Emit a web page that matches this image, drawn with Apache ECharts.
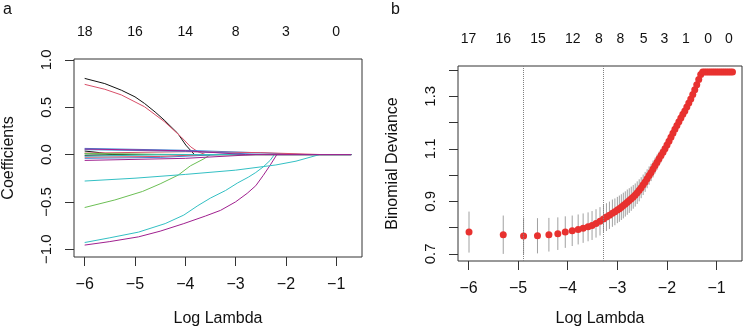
<!DOCTYPE html>
<html>
<head>
<meta charset="utf-8">
<script src="https://cdn.jsdelivr.net/npm/echarts@6/dist/echarts.min.js"></script>
<style>
  html, body { margin: 0; padding: 0; background: #fff; }
  #main { width: 744px; height: 334px; }
</style>
</head>
<body>
<div id="main"></div>
<script>
// panel a: coefficient paths, [logLambda, coefficient]
const coef01 = [[-6, 0.805], [-5.6, 0.75], [-5.27, 0.68], [-5.0, 0.61], [-4.81, 0.54], [-4.6, 0.45], [-4.42, 0.365], [-4.15, 0.224], [-3.99, 0.1], [-3.82, 0], [-0.7, 0]]
const coef02 = [[-6, 0.742], [-5.6, 0.69], [-5.27, 0.63], [-4.81, 0.505], [-4.42, 0.35], [-4.09, 0.19], [-3.89, 0.08], [-3.75, 0.03], [-3.6, 0], [-0.7, 0]]
const coef03 = [[-6, -0.56], [-5.4, -0.48], [-4.85, -0.39], [-4.5, -0.31], [-4.14, -0.217], [-3.9, -0.12], [-3.63, -0.045], [-3.5, 0], [-0.7, 0]]
const coef04 = [[-6, 0.065], [-4, 0.045], [-2.6, 0.02], [-1.6, 0], [-0.7, 0]]
const coef05 = [[-6, -0.93], [-5.5, -0.88], [-4.93, -0.82], [-4.4, -0.73], [-4.03, -0.64], [-3.75, -0.54], [-3.5, -0.46], [-3.2, -0.38], [-2.96, -0.3], [-2.75, -0.24], [-2.6, -0.19], [-2.45, -0.13], [-2.31, -0.06], [-2.23, 0], [-0.7, 0]]
const coef06 = [[-6, -0.957], [-5.5, -0.92], [-4.93, -0.87], [-4.5, -0.81], [-4.03, -0.73], [-3.6, -0.65], [-3.3, -0.59], [-3.0, -0.5], [-2.77, -0.41], [-2.6, -0.33], [-2.45, -0.22], [-2.31, -0.11], [-2.18, 0], [-0.7, 0]]
const coef07 = [[-6, 0.037], [-5.7, 0.02], [-5.45, 0], [-0.7, 0]]
const coef08 = [[-6, 0.015], [-4, 0.03], [-2.5, 0.02], [-1.3, 0], [-0.7, 0]]
const coef09 = [[-6, 0.008], [-3.8, 0], [-0.7, 0]]
const coef10 = [[-6, -0.04], [-4.5, -0.03], [-3.3, 0], [-0.7, 0]]
const coef11 = [[-6, -0.28], [-5, -0.25], [-4, -0.21], [-3, -0.165], [-2.2, -0.11], [-1.8, -0.07], [-1.33, 0], [-0.7, 0]]
const coef12 = [[-6, -0.062], [-4, -0.04], [-2.6, 0], [-0.7, 0]]
const coef13 = [[-6, -0.008], [-5.1, 0], [-0.7, 0]]
const coef14 = [[-6, -0.028], [-4.5, -0.02], [-3.6, 0], [-0.7, 0]]
const coef15 = [[-6, 0.012], [-4.5, 0], [-0.7, 0]]
const coef16 = [[-6, 0.052], [-4, 0.035], [-2.4, 0], [-0.7, 0]]
const coef17 = [[-6, -0.018], [-4.3, 0], [-0.7, 0]]
const coef18 = [[-6, 0.058], [-4, 0.04], [-2.8, 0], [-0.7, 0]]
const coefPaths = [coef01, coef02, coef03, coef04, coef05, coef06, coef07, coef08, coef09,
  coef10, coef11, coef12, coef13, coef14, coef15, coef16, coef17, coef18]

const topTicksA = [-6, -5, -4, -3, -2, -1]
const topLabelsA = ['18', '16', '14', '8', '3', '0']

// panel b: cross-validated deviance (mean and standard error)
const cvLogLambda = [
  -5.99, -5.30, -4.89, -4.61, -4.38, -4.20, -4.05, -3.91, -3.79, -3.69,
  -3.59, -3.51, -3.43, -3.35, -3.28, -3.22, -3.16, -3.10, -3.05, -3.00,
  -2.96, -2.92, -2.88, -2.84, -2.80, -2.76, -2.72, -2.68, -2.64, -2.60,
  -2.56, -2.52, -2.48, -2.44, -2.40, -2.36, -2.32, -2.28, -2.24, -2.20,
  -2.16, -2.12, -2.08, -2.04, -2.00, -1.96, -1.92, -1.88, -1.84, -1.80,
  -1.76, -1.72, -1.68, -1.64, -1.60, -1.56, -1.52, -1.48, -1.44, -1.40,
  -1.36, -1.32, -1.28, -1.24, -1.20, -1.16, -1.12, -1.08, -1.04, -1.00,
  -0.96, -0.92, -0.88, -0.84, -0.80, -0.76, -0.72, -0.68]
const cvDeviance = [
  0.783, 0.773, 0.768, 0.769, 0.773, 0.777, 0.783, 0.788, 0.793, 0.798,
  0.803, 0.808, 0.816, 0.824, 0.833, 0.840, 0.847, 0.855, 0.860, 0.867,
  0.872, 0.878, 0.884, 0.890, 0.897, 0.903, 0.910, 0.917, 0.924, 0.933,
  0.942, 0.952, 0.963, 0.974, 0.986, 0.998, 1.010, 1.023, 1.036, 1.049,
  1.062, 1.074, 1.087, 1.100, 1.114, 1.129, 1.144, 1.159, 1.174, 1.189,
  1.203, 1.217, 1.231, 1.244, 1.259, 1.274, 1.289, 1.307, 1.325, 1.344,
  1.364, 1.383, 1.392, 1.392, 1.392, 1.392, 1.392, 1.392, 1.392, 1.392,
  1.392, 1.392, 1.392, 1.392, 1.392, 1.392, 1.392, 1.392]
const cvSE = [
  0.078, 0.073, 0.070, 0.067, 0.064, 0.062, 0.060, 0.058, 0.057, 0.056,
  0.055, 0.055, 0.054, 0.054, 0.053, 0.053, 0.052, 0.052, 0.051, 0.050,
  0.050, 0.049, 0.049, 0.048, 0.048, 0.047, 0.046, 0.045, 0.044, 0.043,
  0.042, 0.040, 0.039, 0.038, 0.036, 0.035, 0.033, 0.032, 0.030, 0.029,
  0.027, 0.026, 0.024, 0.023, 0.021, 0.020, 0.018, 0.017, 0.015, 0.014,
  0.013, 0.012, 0.011, 0.010, 0.009, 0.008, 0.007, 0.006, 0.005, 0.004,
  0.003, 0.003, 0.002, 0.002, 0.002, 0.002, 0.002, 0.002, 0.002, 0.002,
  0.002, 0.002, 0.002, 0.002, 0.002, 0.002, 0.002, 0.002]
const lambdaMin = -4.89
const lambda1se = -3.28

const topTicksB = [-6, -5.3, -4.6, -3.9, -3.37, -2.94, -2.47, -2.05, -1.62, -1.17, -0.75]
const topLabelsB = ['17', '16', '15', '12', '8', '8', '5', '3', '1', '0', '0']

const pathColors = ['#111111', '#d9506a', '#6cbf55', '#3a8ad6', '#33c0c4', '#a0208f']
const font = "'Liberation Sans', Arial, sans-serif"
const minus = v => String(v).replace('-', '\u2212')

const chart = echarts.init(document.getElementById('main'), null, { renderer: 'canvas' })

function bottomAxis (gridIndex, gap) {
  return {
    type: 'value',
    gridIndex: gridIndex,
    position: 'bottom',
    min: -6.212,
    max: -0.488,
    name: 'Log Lambda',
    nameLocation: 'middle',
    nameGap: gap,
    nameTextStyle: { fontFamily: font, fontSize: 16, color: '#111' },
    axisLine: { show: false, onZero: false },
    axisTick: { show: true, length: 9, customValues: topTicksA, lineStyle: { color: '#333' } },
    axisLabel: {
      customValues: topTicksA,
      margin: 20,
      fontFamily: font,
      fontSize: 16,
      color: '#111',
      formatter: v => minus(v)
    },
    splitLine: { show: false }
  }
}

function topAxis (gridIndex, ticks, labels) {
  return {
    type: 'value',
    gridIndex: gridIndex,
    position: 'top',
    min: -6.212,
    max: -0.488,
    axisLine: { show: false, onZero: false },
    axisTick: { show: false },
    axisLabel: {
      customValues: ticks,
      margin: 20,
      fontFamily: font,
      fontSize: 14,
      color: '#111',
      formatter: v => {
        const i = ticks.findIndex(t => Math.abs(t - v) < 1e-6)
        return i >= 0 ? labels[i] : ''
      }
    },
    splitLine: { show: false }
  }
}

const series = coefPaths.map((path, i) => ({
  type: 'line',
  xAxisIndex: 0,
  yAxisIndex: 0,
  data: path,
  showSymbol: false,
  silent: true,
  lineStyle: { width: 1, color: pathColors[i % 6] }
}))

series.push({
  type: 'custom',
  xAxisIndex: 2,
  yAxisIndex: 1,
  data: cvLogLambda.map((x, i) => [x, cvDeviance[i] - cvSE[i], cvDeviance[i] + cvSE[i]]),
  encode: { x: 0, y: [1, 2] },
  renderItem: (params, api) => {
    const p1 = api.coord([api.value(0), api.value(1)])
    const p2 = api.coord([api.value(0), api.value(2)])
    return {
      type: 'line',
      shape: { x1: p1[0], y1: p1[1], x2: p2[0], y2: p2[1] },
      style: { stroke: '#a0a0a0', lineWidth: 1 }
    }
  },
  silent: true
})

series.push({
  type: 'scatter',
  xAxisIndex: 2,
  yAxisIndex: 1,
  data: cvLogLambda.map((x, i) => [x, cvDeviance[i]]),
  symbolSize: 7,
  itemStyle: { color: '#e8312f', opacity: 1 },
  silent: true,
  markLine: {
    silent: true,
    symbol: 'none',
    label: { show: false },
    lineStyle: { color: '#808080', type: 'dotted', width: 1 },
    data: [{ xAxis: lambdaMin }, { xAxis: lambda1se }]
  }
})

chart.setOption({
  animation: false,
  backgroundColor: '#fff',
  grid: [
    { left: 73, top: 59, width: 289, height: 198, show: true, borderColor: '#333', borderWidth: 1 },
    { left: 458, top: 66, width: 284, height: 195, show: true, borderColor: '#333', borderWidth: 1 }
  ],
  xAxis: [
    bottomAxis(0, 54),
    topAxis(0, topTicksA, topLabelsA),
    bottomAxis(1, 50),
    topAxis(1, topTicksB, topLabelsB)
  ],
  yAxis: [
    {
      type: 'value',
      gridIndex: 0,
      min: -1.083,
      max: 1.01,
      name: 'Coefficients',
      nameLocation: 'middle',
      nameGap: 57,
      nameTextStyle: { fontFamily: font, fontSize: 16, color: '#111' },
      axisLine: { show: false, onZero: false },
      axisTick: { show: true, length: 9, customValues: [-1, -0.5, 0, 0.5, 1], lineStyle: { color: '#333' } },
      axisLabel: {
        customValues: [-1, -0.5, 0, 0.5, 1],
        rotate: 90,
        margin: 20,
        fontFamily: font,
        fontSize: 15,
        color: '#111',
        formatter: v => minus(v.toFixed(1))
      },
      splitLine: { show: false }
    },
    {
      type: 'value',
      gridIndex: 1,
      min: 0.673,
      max: 1.415,
      name: 'Binomial Deviance',
      nameLocation: 'middle',
      nameGap: 57,
      nameTextStyle: { fontFamily: font, fontSize: 16, color: '#111' },
      axisLine: { show: false, onZero: false },
      axisTick: { show: true, length: 9, customValues: [0.7, 0.8, 0.9, 1.0, 1.1, 1.2, 1.3, 1.4], lineStyle: { color: '#333' } },
      axisLabel: {
        customValues: [0.7, 0.9, 1.1, 1.3],
        rotate: 90,
        margin: 20,
        fontFamily: font,
        fontSize: 15,
        color: '#111',
        formatter: v => v.toFixed(1)
      },
      splitLine: { show: false }
    }
  ],
  graphic: [
    { type: 'text', left: 3, top: 2, style: { text: 'a', font: '16px ' + font, fill: '#111' } },
    { type: 'text', left: 391, top: 2, style: { text: 'b', font: '16px ' + font, fill: '#111' } }
  ],
  series: series
})
</script>
</body>
</html>
